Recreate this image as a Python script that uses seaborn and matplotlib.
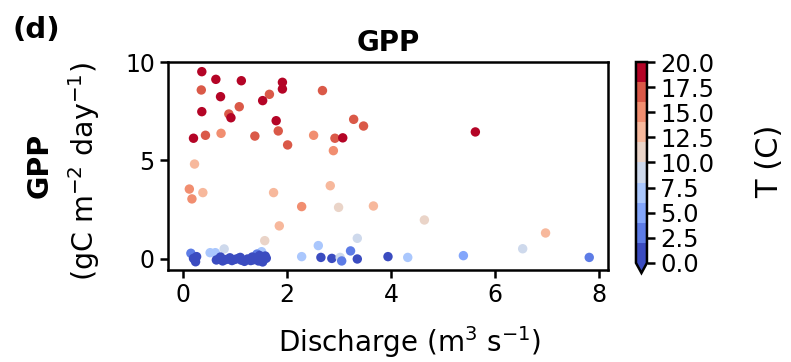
import numpy as np
import pandas as pd
import matplotlib
matplotlib.use("Agg")
import matplotlib.pyplot as plt
import seaborn as sns
from matplotlib.colors import Normalize
from matplotlib.cm import ScalarMappable

# ---- data ----
discharge = [0.36, 0.63, 1.12, 1.91, 1.91, 0.35, 2.68, 0.72, 1.66, 1.53,
             1.08, 0.36, 0.88, 0.92, 1.79, 3.28, 3.47, 1.83, 0.20, 0.43,
             0.73, 1.38, 2.01, 2.51, 2.92, 3.07, 2.89, 5.62, 0.22, 0.12,
             0.17, 0.38, 1.74, 2.83, 2.28, 2.99, 3.66, 1.85, 1.57, 4.64,
             6.97, 6.53, 5.39, 4.32, 3.94, 7.81, 3.35, 2.60, 3.22, 2.65,
             2.86, 3.02, 3.05, 3.35, 2.28, 0.15, 0.20, 0.26, 0.24, 0.52,
             0.62, 0.79, 1.51, 1.42,
             0.64, 0.70, 0.76, 0.82, 0.88, 0.94, 1.00, 1.06, 1.12, 1.18,
             1.24, 1.30, 1.35, 1.40, 1.45, 1.50, 1.55, 1.60, 0.72, 0.90,
             1.10, 1.33, 1.47, 1.58, 1.53]
gpp = [9.51, 9.12, 9.05, 8.97, 8.63, 8.58, 8.55, 8.24, 8.36, 8.04,
       7.73, 7.48, 7.36, 7.17, 7.02, 7.09, 6.75, 6.50, 6.13, 6.28,
       6.38, 6.24, 5.79, 6.28, 6.13, 6.15, 5.50, 6.45, 4.82, 3.55,
       3.05, 3.37, 3.37, 3.72, 2.66, 2.62, 2.69, 1.68, 0.93, 1.98,
       1.32, 0.52, 0.17, 0.08, 0.12, 0.08, 1.05, 0.68, 0.41, 0.08,
       0.03, 0.08, -0.10, 0.00, 0.12, 0.29, 0.03, 0.12, -0.14, 0.32,
       0.32, 0.51, 0.37, 0.25,
       -0.05, 0.02, -0.10, -0.03, 0.00, -0.08, -0.02, 0.03, -0.06, -0.12,
       0.00, -0.08, -0.04, 0.05, -0.10, 0.08, -0.02, 0.04, 0.10, 0.06,
       0.08, 0.10, 0.18, 0.15, -0.15]
temperature = [19, 19, 19, 19, 19, 17, 17, 19, 17, 19,
               17, 19, 17, 19, 19, 17, 17, 17, 19, 17,
               15, 17, 17, 15, 17, 19, 15, 19, 13, 15,
               15, 13, 13, 13, 15, 11, 13, 13, 11, 11,
               13, 9, 5, 7, 1, 3, 9, 7, 3, 1,
               1, 9, 3, 1, 7, 3, 1, 1, 1, 7,
               7, 9, 7, 3,
               1, 1, 1, 1, 1, 1, 1, 1, 1, 1,
               1, 1, 1, 1, 1, 1, 1, 1, 1, 1,
               1, 1, 1, 1, 1]
xticks = [0, 2, 4, 6, 8]
yticks = [0, 5, 10]
cbar_ticks = [0.0, 2.5, 5.0, 7.5, 10.0, 12.5, 15.0, 17.5, 20.0]
cbar_ticklabels = ["0.0", "2.5", "5.0", "7.5", "10.0", "12.5", "15.0", "17.5", "20.0"]

df = pd.DataFrame({"Discharge": discharge, "GPP": gpp, "T": temperature})

sns.set_theme(style="ticks")
plt.rcParams["font.family"] = ["DejaVu Sans"]
plt.rcParams["text.color"] = "black"
plt.rcParams["axes.labelcolor"] = "black"
plt.rcParams["xtick.color"] = "black"
plt.rcParams["ytick.color"] = "black"

fig = plt.figure(figsize=(7.91, 3.62), dpi=100)
ax = fig.add_axes([0.2124, 0.2541, 0.5562, 0.5746])

cmap = matplotlib.colormaps["coolwarm"].resampled(10)
norm = Normalize(vmin=0, vmax=20)

sns.scatterplot(data=df, x="Discharge", y="GPP", hue="T", palette=cmap,
                hue_norm=norm, s=46, linewidth=0, legend=False, ax=ax)

ax.set_xlim(-0.29, 8.17)
ax.set_ylim(-0.56, 10)
ax.set_xticks(xticks)
ax.set_yticks(yticks)
ax.tick_params(labelsize=17, width=1.8, length=6, color="black", labelcolor="black")
for sp in ax.spines.values():
    sp.set_linewidth(1.8)
    sp.set_color("black")
    sp.set_visible(True)

ax.set_xlabel("")
ax.set_ylabel("")
ax.set_title("GPP", fontsize=20, fontweight="bold", pad=8, color="black")

ax.text(0.55, -0.345, "Discharge (m$^3$ s$^{-1}$)", transform=ax.transAxes,
        ha="center", va="center", fontsize=20, color="black")
ax.text(-0.291, 0.505, "GPP", transform=ax.transAxes, rotation=90,
        ha="center", va="center", fontsize=20.5, fontweight="bold", color="black")
ax.text(-0.191, 0.476, "(gC m$^{-2}$ day$^{-1}$)", transform=ax.transAxes,
        rotation=90, ha="center", va="center", fontsize=20.5, color="black")

fig.text(0.016, 0.955, "(d)", ha="left", va="top", fontsize=21,
         fontweight="bold", color="black")

cax = fig.add_axes([0.804, 0.2459, 0.0139, 0.5828])
sm = ScalarMappable(norm=norm, cmap=cmap)
cb = fig.colorbar(sm, cax=cax, extend="min", ticks=cbar_ticks)
cb.ax.set_yticklabels(cbar_ticklabels)
cb.ax.tick_params(labelsize=17.5, width=1.8, length=6, color="black", labelcolor="black")
cb.outline.set_linewidth(1.8)
cb.outline.set_edgecolor("black")

fig.text(770 / 791, 1 - 161 / 362, "T (C)", rotation=90, ha="center",
         va="center", fontsize=22, color="black")

fig.savefig("out.png", dpi=100, facecolor="white")
